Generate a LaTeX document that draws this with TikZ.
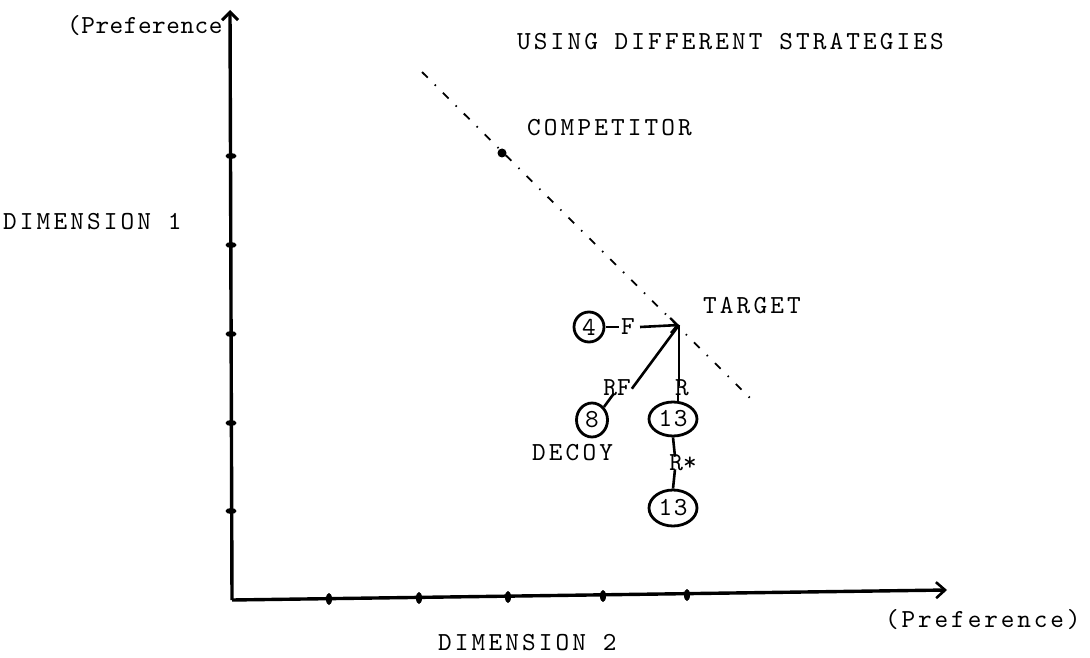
\documentclass[tikz,border=0pt]{standalone}
\usepackage{fontspec}
\newfontfamily\typer{lmmono10-regular}[Extension=.otf]
\newfontfamily\typerwide{lmmono10-regular}[Extension=.otf, LetterSpace=12]
\newfontfamily\typermid{lmmono10-regular}[Extension=.otf, LetterSpace=11]
\newfontfamily\typernarrow{lmmono10-regular}[Extension=.otf, LetterSpace=2]
\newfontfamily\typerdig{lmmono10-regular}[Extension=.otf, LetterSpace=6]
\usetikzlibrary{arrows.meta,shapes.geometric}
\tikzset{
  tw/.style={font=\typerwide\fontsize{26}{30}\selectfont, inner sep=0pt},
  twmid/.style={font=\typermid\fontsize{26}{30}\selectfont, inner sep=0pt},
  twsmall/.style={font=\typernarrow\fontsize{26}{30}\selectfont, inner sep=0pt},
  lab/.style={font=\typer\fontsize{26}{30}\selectfont, inner sep=0pt},
  axis/.style={line width=3.4pt},
  ytick/.style={ellipse, fill=black, minimum width=11pt, minimum height=6pt, inner sep=0pt},
  xtick/.style={ellipse, fill=black, minimum width=6pt, minimum height=12pt, inner sep=0pt},
  ring/.style={draw, line width=2.8pt, inner sep=0pt, font=\typerdig\fontsize{26}{30}\selectfont},
  link/.style={line width=2.6pt},
  guide/.style={line width=1.8pt, dash pattern=on 8pt off 10pt on 1.5pt off 10pt}
}
\begin{document}
\begin{tikzpicture}[x=1pt,y=-1pt]
\useasboundingbox (0,0) rectangle (1090,658);
% axes
\coordinate (O) at (232,600);
\coordinate (ytop) at (230,10);
\coordinate (xend) at (947,590);
\draw[axis, -{Straight Barb[length=8pt,width=16pt,line width=3pt]}] (O) -- (ytop);
\draw[axis, -{Straight Barb[length=9pt,width=16pt,line width=2.6pt]}] (O) -- (xend);
% y ticks
\foreach \yy/\nm in {156/ya,245/yb,334/yc,423/yd,511/ye}
  \node[ytick] (\nm) at (231,\yy) {};
% x ticks
\node[xtick] (xa) at (329,599) {};
\node[xtick] (xb) at (419,598) {};
\node[xtick] (xc) at (508,597) {};
\node[xtick] (xd) at (603,596) {};
\node[xtick] (xe) at (687,595) {};
% axis labels
\node[twsmall, anchor=west] (prefy) at (67,26) {(Preference};
\node[tw, anchor=west] (dim1) at (3,222) {DIMENSION 1};
\node[tw, anchor=west] (dim2) at (438,643) {DIMENSION 2};
\node[twmid, anchor=west] (prefx) at (885,620) {(Preference)};
% title
\node[tw, anchor=west] (title) at (517,42) {USING DIFFERENT STRATEGIES};
% indifference line
\coordinate (d1) at (422,72);
\coordinate (d2) at (752,400);
\draw[guide] (d1) -- (d2);
% competitor
\node[circle, fill=black, minimum size=9pt, inner sep=0pt] (comp) at (502,153) {};
\node[tw, anchor=west] (complab) at (527,128) {COMPETITOR};
% target
\coordinate (target) at (679,325);
\node[tw, anchor=west] (targlab) at (703,306) {TARGET};
% strategies
\node[ring, circle, minimum size=30pt] (c4) at (589,327) {4};
\node[lab] (F) at (628,327) {F};
\node[ring, ellipse, minimum width=31pt, minimum height=34pt] (c8) at (592,420) {8};
\node[lab] (RF) at (617,388) {RF};
\node[lab] (R) at (682,388) {R};
\node[ring, ellipse, minimum width=48pt, minimum height=34pt] (c13a) at (673,419) {13};
\node[lab] (Rs) at (683,463) {R*};
\node[ring, ellipse, minimum width=48pt, minimum height=36pt] (c13b) at (673,508) {13};
\node[tw, anchor=west] (decoy) at (532,453) {DECOY};
% connectors
\draw[link] ([xshift=1pt]c4.east) -- ([xshift=-2pt]F.west);
\draw[link, -{Straight Barb[length=7pt,width=15pt,line width=2.2pt]}] ([xshift=5pt]F.east) -- (target);
\draw[link] (target) -- ([xshift=1pt,yshift=-9pt]RF.north east);
\draw[link] (target) -- ([yshift=-6pt]R.north -| target);
\draw[link] (c8.north east) -- ([xshift=-3pt,yshift=3pt]RF.south);
\draw[link] ([xshift=-4pt,yshift=2pt]R.south) -- ([xshift=-4pt]c13a.north -| R.south);
\draw[link] (c13a.south) -- ([xshift=-8pt,yshift=-2pt]Rs.north);
\draw[link] ([xshift=-8pt,yshift=2pt]Rs.south) -- (c13b.north);
\end{tikzpicture}
\end{document}
